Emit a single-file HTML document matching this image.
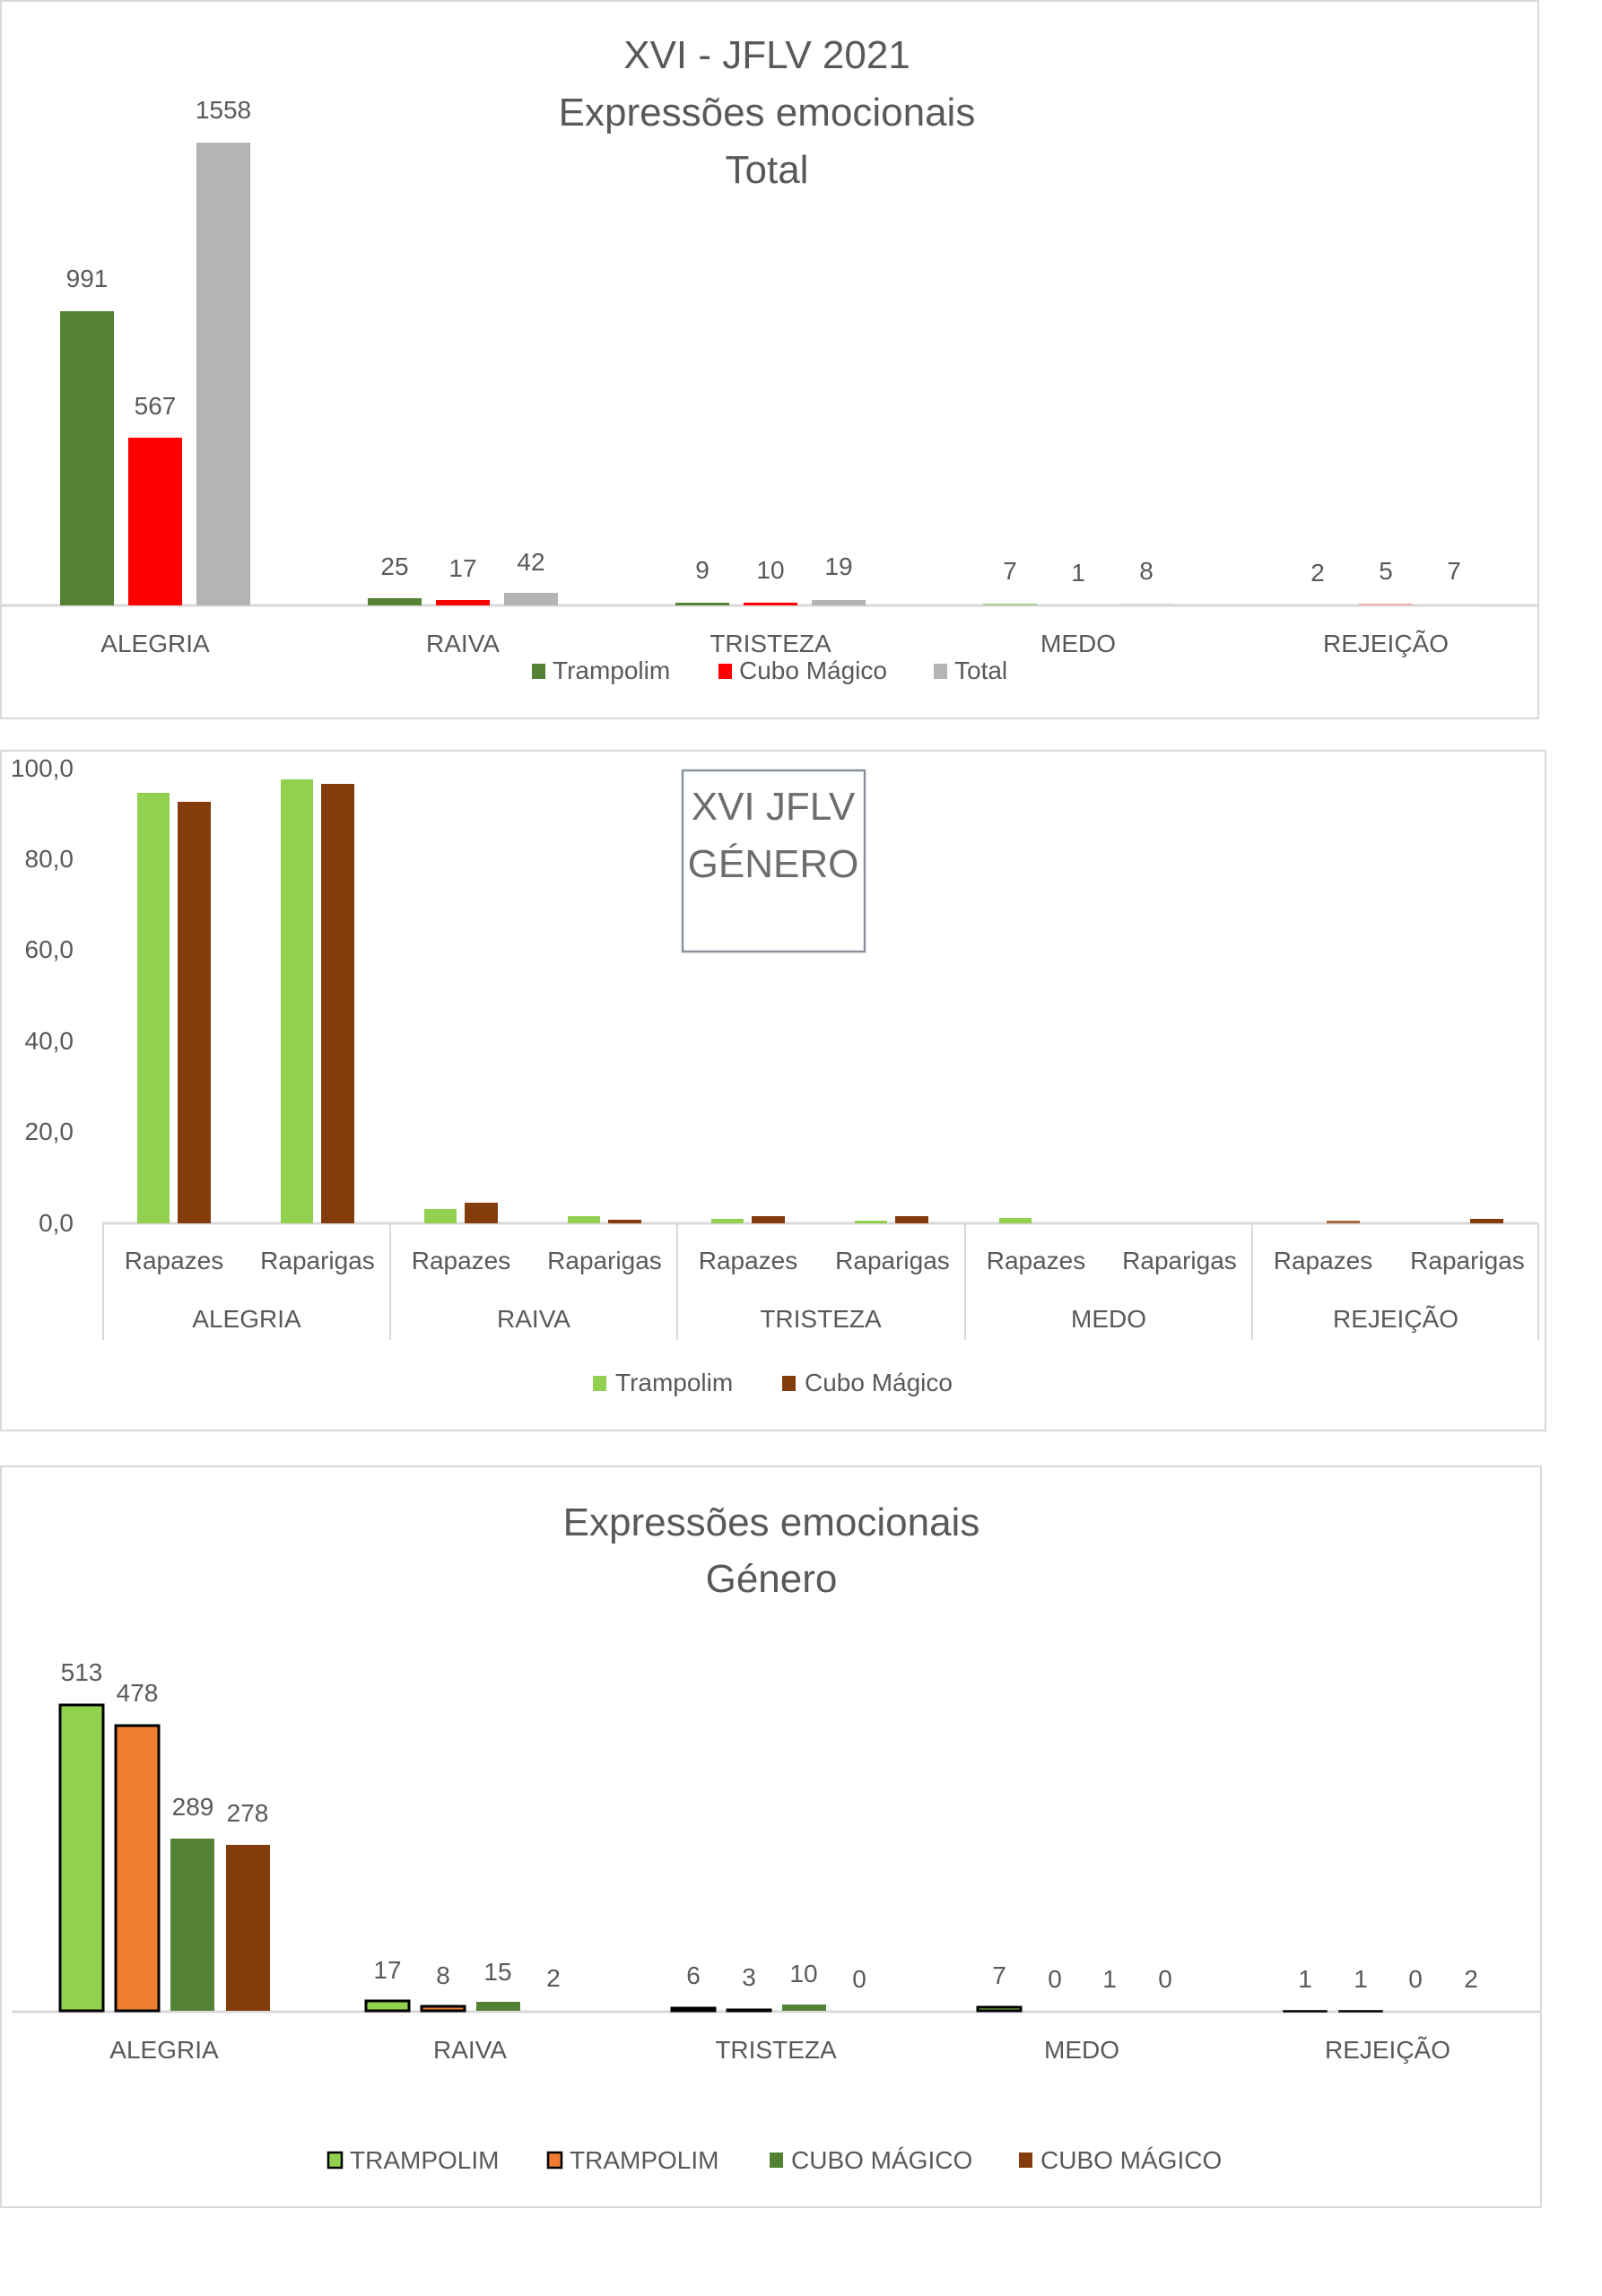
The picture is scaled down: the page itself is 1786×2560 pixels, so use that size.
<!DOCTYPE html>
<html><head><meta charset="utf-8"><style>
html,body{margin:0;padding:0;background:#fff;}
svg{display:block;}
text{font-family:"Liberation Sans",sans-serif;fill:#595959;}
</style></head><body>
<svg width="1786" height="2560" viewBox="0 0 1786 2560" xmlns="http://www.w3.org/2000/svg">
<!-- Chart 1 -->
<rect x="1" y="1" width="1714" height="800" fill="#fff" stroke="#d9d9d9" stroke-width="2"/>
<g text-anchor="middle" font-size="44">
<text x="855" y="76">XVI - JFLV 2021</text>
<text x="855" y="140">Expressões emocionais</text>
<text x="855" y="204">Total</text>
</g>
<line x1="0" y1="675" x2="1715" y2="675" stroke="#d9d9d9" stroke-width="3"/>
<g>
<rect x="67" y="347" width="60" height="328" fill="#548235"/>
<rect x="143" y="488" width="60" height="187" fill="#ff0000"/>
<rect x="219" y="159" width="60" height="516" fill="#b4b4b4"/>
<rect x="410" y="667" width="60" height="8" fill="#548235"/>
<rect x="486" y="669" width="60" height="6" fill="#ff0000"/>
<rect x="562" y="661" width="60" height="14" fill="#b4b4b4"/>
<rect x="753" y="672" width="60" height="3" fill="#548235"/>
<rect x="829" y="672" width="60" height="3" fill="#ff0000"/>
<rect x="905" y="669" width="60" height="6" fill="#b4b4b4"/>
<rect x="1096" y="673" width="60" height="2" fill="#a9d18e"/>
<rect x="1248" y="673" width="60" height="2" fill="#d9d9d9"/>
<rect x="1515" y="673" width="60" height="2" fill="#f4b1b1"/>
<rect x="1591" y="673" width="60" height="2" fill="#e0e0e0"/>
</g>
<g text-anchor="middle" font-size="28">
<text x="97" y="320">991</text><text x="173" y="462">567</text><text x="249" y="132">1558</text>
<text x="440" y="641">25</text><text x="516" y="643">17</text><text x="592" y="636">42</text>
<text x="783" y="645">9</text><text x="859" y="645">10</text><text x="935" y="641">19</text>
<text x="1126" y="646">7</text><text x="1202" y="648">1</text><text x="1278" y="646">8</text>
<text x="1469" y="648">2</text><text x="1545" y="646">5</text><text x="1621" y="646">7</text>
<text x="173" y="727">ALEGRIA</text><text x="516" y="727">RAIVA</text><text x="859" y="727">TRISTEZA</text><text x="1202" y="727">MEDO</text><text x="1545" y="727">REJEIÇÃO</text>
</g>
<g font-size="28">
<rect x="593" y="740" width="15" height="17" fill="#548235"/><text x="616" y="757">Trampolim</text>
<rect x="801" y="740" width="15" height="17" fill="#ff0000"/><text x="824" y="757">Cubo Mágico</text>
<rect x="1041" y="740" width="15" height="17" fill="#b4b4b4"/><text x="1064" y="757">Total</text>
</g>

<!-- Chart 2 -->
<rect x="1" y="837" width="1722" height="758" fill="#fff" stroke="#d9d9d9" stroke-width="2"/>
<g text-anchor="end" font-size="28">
<text x="82" y="866">100,0</text><text x="82" y="967">80,0</text><text x="82" y="1068">60,0</text><text x="82" y="1170">40,0</text><text x="82" y="1271">20,0</text><text x="82" y="1373">0,0</text>
</g>
<line x1="114" y1="1364" x2="1715" y2="1364" stroke="#d9d9d9" stroke-width="3"/>
<g stroke="#d9d9d9" stroke-width="2">
<line x1="115" y1="1364" x2="115" y2="1494"/><line x1="435" y1="1364" x2="435" y2="1494"/><line x1="755" y1="1364" x2="755" y2="1494"/><line x1="1076" y1="1364" x2="1076" y2="1494"/><line x1="1396" y1="1364" x2="1396" y2="1494"/><line x1="1715" y1="1364" x2="1715" y2="1494"/>
</g>
<g>
<rect x="153" y="884" width="36" height="480" fill="#92d050"/>
<rect x="198" y="894" width="37" height="470" fill="#843c0c"/>
<rect x="313" y="869" width="36" height="495" fill="#92d050"/>
<rect x="358" y="874" width="37" height="490" fill="#843c0c"/>
<rect x="473" y="1348" width="36" height="16" fill="#92d050"/>
<rect x="518" y="1341" width="37" height="23" fill="#843c0c"/>
<rect x="633" y="1356" width="36" height="8" fill="#92d050"/>
<rect x="678" y="1360" width="37" height="4" fill="#843c0c"/>
<rect x="793" y="1359" width="36" height="5" fill="#92d050"/>
<rect x="838" y="1356" width="37" height="8" fill="#843c0c"/>
<rect x="953" y="1361" width="36" height="3" fill="#92d050"/>
<rect x="998" y="1356" width="37" height="8" fill="#843c0c"/>
<rect x="1114" y="1358" width="36" height="6" fill="#92d050"/>
<rect x="1479" y="1361" width="37" height="3" fill="#a86a40"/>
<rect x="1639" y="1359" width="37" height="5" fill="#843c0c"/>
</g>
<g text-anchor="middle" font-size="28">
<text x="194" y="1415">Rapazes</text><text x="354" y="1415">Raparigas</text>
<text x="514" y="1415">Rapazes</text><text x="674" y="1415">Raparigas</text>
<text x="834" y="1415">Rapazes</text><text x="995" y="1415">Raparigas</text>
<text x="1155" y="1415">Rapazes</text><text x="1315" y="1415">Raparigas</text>
<text x="1475" y="1415">Rapazes</text><text x="1636" y="1415">Raparigas</text>
<text x="275" y="1480">ALEGRIA</text><text x="595" y="1480">RAIVA</text><text x="915" y="1480">TRISTEZA</text><text x="1236" y="1480">MEDO</text><text x="1556" y="1480">REJEIÇÃO</text>
</g>
<g font-size="28">
<rect x="661" y="1534" width="15" height="17" fill="#92d050"/><text x="686" y="1551">Trampolim</text>
<rect x="872" y="1534" width="15" height="17" fill="#843c0c"/><text x="897" y="1551">Cubo Mágico</text>
</g>
<rect x="761" y="859" width="203" height="202" fill="#fff" stroke="#8a929b" stroke-width="2.5"/>
<g text-anchor="middle" font-size="44" style="fill:#6d6d6d">
<text x="862" y="914" style="fill:#6d6d6d">XVI JFLV</text>
<text x="862" y="978" style="fill:#6d6d6d">GÉNERO</text>
</g>

<!-- Chart 3 -->
<rect x="1" y="1635" width="1717" height="826" fill="#fff" stroke="#d9d9d9" stroke-width="2"/>
<g text-anchor="middle" font-size="44">
<text x="860" y="1712">Expressões emocionais</text>
<text x="860" y="1775">Género</text>
</g>
<line x1="13" y1="2243" x2="1717" y2="2243" stroke="#d9d9d9" stroke-width="3"/>
<g stroke="#000" stroke-width="3">
<rect x="67" y="1901" width="48" height="341" fill="#92d050"/>
<rect x="129" y="1924" width="48" height="318" fill="#ed7d31"/>
<rect x="408" y="2231" width="48" height="11" fill="#92d050"/>
<rect x="470" y="2237" width="48" height="5" fill="#ed7d31"/>
<rect x="749" y="2239" width="48" height="3" fill="#92d050"/>
<rect x="811" y="2241" width="48" height="1" fill="#ed7d31"/>
<rect x="1090" y="2238" width="48" height="4" fill="#92d050"/>
<rect x="1431" y="2242" width="48" height="1" fill="#92d050" stroke-width="1.5"/>
<rect x="1493" y="2242" width="48" height="1" fill="#ed7d31" stroke-width="1.5"/>
</g>
<rect x="190" y="2050" width="49" height="192" fill="#548235"/>
<rect x="252" y="2057" width="49" height="185" fill="#843c0c"/>
<rect x="531" y="2232" width="49" height="10" fill="#548235"/>
<rect x="872" y="2235" width="49" height="7" fill="#548235"/>
<g text-anchor="middle" font-size="28">
<text x="91" y="1874">513</text><text x="153" y="1897">478</text><text x="215" y="2024">289</text><text x="276" y="2031">278</text>
<text x="432" y="2206">17</text><text x="494" y="2212">8</text><text x="555" y="2208">15</text><text x="617" y="2215">2</text>
<text x="773" y="2212">6</text><text x="835" y="2214">3</text><text x="896" y="2210">10</text><text x="958" y="2216">0</text>
<text x="1114" y="2212">7</text><text x="1176" y="2216">0</text><text x="1237" y="2216">1</text><text x="1299" y="2216">0</text>
<text x="1455" y="2216">1</text><text x="1517" y="2216">1</text><text x="1578" y="2216">0</text><text x="1640" y="2216">2</text>
<text x="183" y="2295">ALEGRIA</text><text x="524" y="2295">RAIVA</text><text x="865" y="2295">TRISTEZA</text><text x="1206" y="2295">MEDO</text><text x="1547" y="2295">REJEIÇÃO</text>
</g>
<g font-size="28">
<rect x="366" y="2400" width="15" height="17" fill="#92d050" stroke="#000" stroke-width="2.5"/><text x="390" y="2418">TRAMPOLIM</text>
<rect x="611" y="2400" width="15" height="17" fill="#ed7d31" stroke="#000" stroke-width="2.5"/><text x="635" y="2418">TRAMPOLIM</text>
<rect x="858" y="2400" width="15" height="17" fill="#548235"/><text x="882" y="2418">CUBO MÁGICO</text>
<rect x="1136" y="2400" width="15" height="17" fill="#843c0c"/><text x="1160" y="2418">CUBO MÁGICO</text>
</g>
</svg>
</body></html>
